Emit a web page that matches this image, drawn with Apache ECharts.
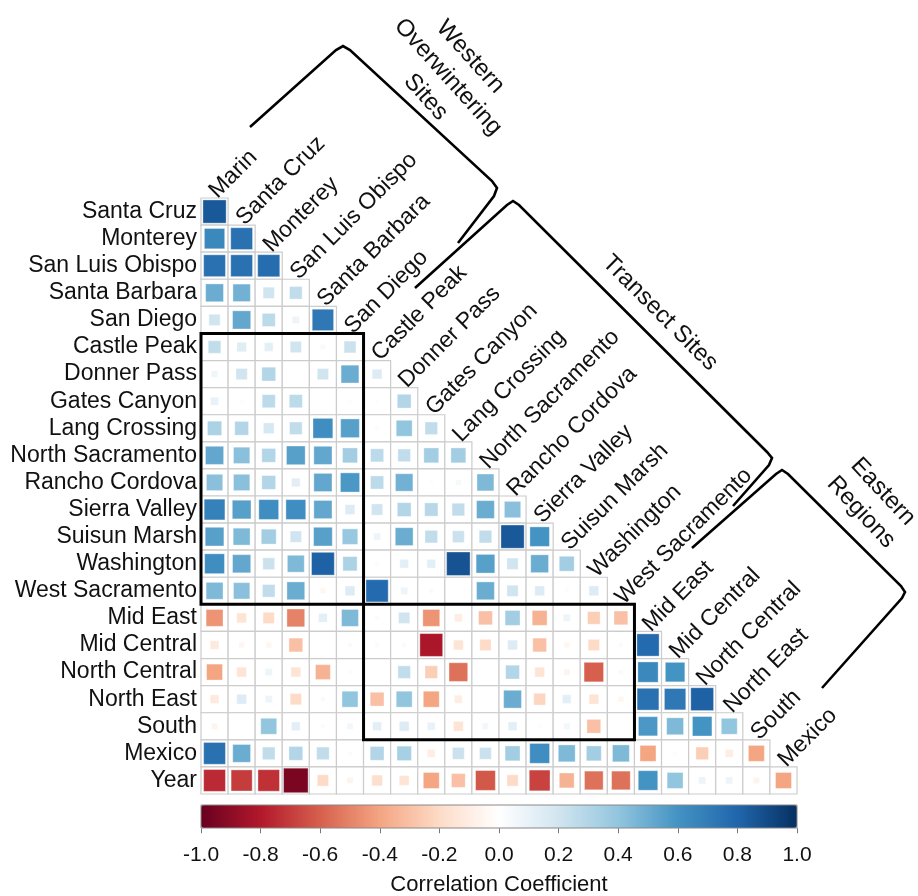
<!DOCTYPE html>
<html><head><meta charset="utf-8">
<script src="https://cdn.jsdelivr.net/npm/echarts@6/dist/echarts.min.js"></script>
<style>html,body{margin:0;padding:0;background:#fff}#c{width:918px;height:896px}</style>
</head><body><div id="c"></div>
<script>
// Column categories (x) and row categories (y)
const cols = ['Marin','Santa Cruz','Monterey','San Luis Obispo','Santa Barbara','San Diego',
  'Castle Peak','Donner Pass','Gates Canyon','Lang Crossing','North Sacramento','Rancho Cordova',
  'Sierra Valley','Suisun Marsh','Washington','West Sacramento','Mid East','Mid Central',
  'North Central','North East','South','Mexico'];
const rows = ['Santa Cruz','Monterey','San Luis Obispo','Santa Barbara','San Diego','Castle Peak',
  'Donner Pass','Gates Canyon','Lang Crossing','North Sacramento','Rancho Cordova','Sierra Valley',
  'Suisun Marsh','Washington','West Sacramento','Mid East','Mid Central','North Central',
  'North East','South','Mexico','Year'];

// Correlation values, one array per row (columns Marin ... in order)
const santaCruz = [0.85];
const monterey = [0.65, 0.75];
const sanLuisObispo = [0.75, 0.75, 0.77];
const santaBarbara = [0.5, 0.48, 0.2, 0.25];
const sanDiego = [0.2, 0.52, 0.27, 0.08, 0.72];
const castlePeak = [0.25, 0.14, 0.12, 0.2, 0.04, 0.22];
const donnerPass = [0.07, 0.2, 0.3, 0.0, 0.2, 0.5, 0.15];
const gatesCanyon = [0.1, 0.02, 0.27, 0.27, 0.01, 0.02, 0.02, 0.3];
const langCrossing = [0.32, 0.3, 0.18, 0.25, 0.62, 0.55, -0.03, 0.4, 0.25];
const northSacramento = [0.52, 0.42, 0.3, 0.55, 0.52, 0.35, 0.27, 0.25, 0.35, 0.35];
const ranchoCordova = [0.42, 0.42, 0.3, 0.12, 0.52, 0.58, 0.27, 0.48, 0.02, 0.05, 0.45];
const sierraValley = [0.68, 0.55, 0.62, 0.62, 0.52, 0.15, 0.2, 0.3, 0.28, 0.25, 0.5, 0.42];
const suisunMarsh = [0.55, 0.45, 0.35, 0.2, 0.55, 0.38, 0.08, 0.5, 0.25, 0.22, 0.25, 0.85, 0.6];
const washington = [0.62, 0.52, 0.22, 0.45, 0.82, 0.32, -0.03, 0.12, 0.12, 0.87, 0.55, 0.2, 0.5, 0.35];
const westSacramento = [0.45, 0.42, 0.25, 0.5, -0.05, 0.15, 0.78, 0.08, 0.03, 0.01, 0.5, 0.2, 0.15, -0.03, 0.15];
const midEast = [-0.45, -0.15, -0.2, -0.5, 0.12, 0.45, -0.03, 0.2, -0.45, -0.1, -0.3, 0.35, -0.35, 0.08, -0.25, -0.3];
const midCentral = [-0.12, -0.05, -0.05, -0.3, 0.01, 0.03, -0.03, -0.03, -0.82, -0.15, -0.2, 0.15, -0.3, -0.05, -0.2, -0.03, 0.78];
const northCentral = [-0.4, -0.15, 0.08, -0.15, -0.35, 0.02, 0.0, 0.25, -0.25, -0.55, 0.0, 0.3, -0.15, -0.06, -0.6, 0.03, 0.65, 0.6];
const northEast = [-0.12, 0.15, 0.08, -0.2, 0.03, 0.4, -0.3, 0.4, -0.4, -0.1, 0.0, 0.5, -0.22, 0.12, -0.15, -0.05, 0.75, 0.72, 0.82];
const south = [-0.06, 0.0, 0.4, 0.12, -0.03, 0.06, 0.12, 0.15, 0.1, -0.15, 0.06, 0.12, -0.02, 0.06, -0.3, 0.01, 0.58, 0.45, 0.6, 0.4];
const mexico = [0.75, 0.5, 0.25, 0.3, 0.25, -0.03, 0.3, 0.33, -0.1, 0.22, 0.22, 0.35, 0.62, 0.45, 0.35, 0.45, -0.4, 0.02, -0.25, -0.1, -0.4];
const year = [-0.75, -0.7, -0.73, -0.95, -0.2, -0.06, -0.18, -0.15, -0.4, -0.3, -0.62, -0.2, -0.68, -0.35, -0.55, -0.55, 0.6, 0.4, 0.08, 0.08, -0.06, -0.4];

// Colour bar ticks
const barTicks = [-1.0, -0.8, -0.6, -0.4, -0.2, 0.0, 0.2, 0.4, 0.6, 0.8, 1.0];

// Group blocks (inclusive column/row index ranges)
const blockWestTransect = [0, 5, 5, 14];
const blockTransectEast = [6, 15, 15, 19];

const rowValues = [santaCruz, monterey, sanLuisObispo, santaBarbara, sanDiego, castlePeak,
  donnerPass, gatesCanyon, langCrossing, northSacramento, ranchoCordova, sierraValley,
  suisunMarsh, washington, westSacramento, midEast, midCentral, northCentral, northEast,
  south, mexico, year];

const cellData = [];
rowValues.forEach((vals, i) => vals.forEach((v, j) => cellData.push([j, i, v])));

const FONT = '"Liberation Sans", Arial, sans-serif';
const chart = echarts.init(document.getElementById('c'));

chart.setOption({
  backgroundColor: '#fff',
  animation: false,
  grid: [
    {left: 201, top: 198, width: 596, height: 596},
    {left: 201, top: 828, width: 596, height: 1}
  ],
  xAxis: [
    {type: 'category', data: cols, gridIndex: 0, show: false},
    {type: 'value', gridIndex: 1, min: barTicks[0], max: barTicks[barTicks.length - 1], interval: 0.2,
     axisLine: {show: false}, splitLine: {show: false},
     axisTick: {show: true, length: 5, lineStyle: {color: '#777', width: 1}},
     axisLabel: {fontSize: 21, fontFamily: FONT, color: '#111', margin: 16,
       formatter: v => (Math.abs(v) < 1e-9 ? 0 : v).toFixed(1)},
     name: 'Correlation Coefficient', nameLocation: 'middle', nameGap: 46,
     nameTextStyle: {fontSize: 22, fontFamily: FONT, color: '#111'}}
  ],
  yAxis: [
    {type: 'category', data: rows, gridIndex: 0, inverse: true,
     axisLine: {show: false}, axisTick: {show: false}, splitLine: {show: false},
     axisLabel: {interval: 0, fontSize: 23, fontFamily: FONT, color: '#111', margin: 4}},
    {type: 'value', gridIndex: 1, show: false}
  ],
  visualMap: {
    type: 'continuous', seriesIndex: 0, dimension: 2, min: -1, max: 1,
    orient: 'horizontal', left: 201, top: 805, itemWidth: 23, itemHeight: 596,
    padding: 0, calculable: false, hoverLink: false,
    inRange: {color: ['#67001F','#B2182B','#D6604D','#F4A582','#FDDBC7','#FFFFFF',
                      '#D1E5F0','#92C5DE','#4393C3','#2166AC','#053061']}
  },
  series: [
    {
      type: 'custom', xAxisIndex: 0, yAxisIndex: 0, clip: false, data: cellData,
      renderItem: (params, api) => {
        const c = api.coord([api.value(0), api.value(1)]);
        const s = api.size([1, 1]);
        const w = s[0], h = s[1];
        const side = Math.sqrt(Math.abs(api.value(2))) * w * 0.93;
        return {type: 'group', children: [
          {type: 'rect', shape: {x: c[0] - w / 2, y: c[1] - h / 2, width: w, height: h},
           style: {fill: '#fff', stroke: '#cccccc', lineWidth: 1.2}},
          {type: 'rect', shape: {x: c[0] - side / 2, y: c[1] - side / 2, width: side, height: side},
           style: {fill: api.visual('color'), stroke: 'rgba(255,255,255,0.6)', lineWidth: 0.6}}
        ]};
      }
    },
    {
      type: 'custom', xAxisIndex: 0, yAxisIndex: 0, clip: false, z: 5,
      data: cols.map((c, j) => [j, j]),
      renderItem: (params, api) => {
        const j = api.value(0);
        const c = api.coord([j, j]);
        const s = api.size([1, 1]);
        return {type: 'text', x: c[0] - s[0] / 2 + 12, y: c[1] - s[1] + 10, rotation: Math.PI / 4,
          style: {text: cols[j], font: '23px ' + FONT, fill: '#111',
            textAlign: 'left', textVerticalAlign: 'middle', verticalAlign: 'middle'}};
      }
    },
    {
      type: 'custom', xAxisIndex: 0, yAxisIndex: 0, clip: false, z: 6,
      data: [blockWestTransect, blockTransectEast],
      renderItem: (params, api) => {
        const s = api.size([1, 1]);
        const a = api.coord([api.value(0), api.value(2)]);
        const b = api.coord([api.value(1), api.value(3)]);
        return {type: 'rect',
          shape: {x: a[0] - s[0] / 2, y: a[1] - s[1] / 2,
                  width: b[0] - a[0] + s[0], height: b[1] - a[1] + s[1]},
          style: {fill: 'none', stroke: '#000', lineWidth: 3}};
      }
    }
  ],
  graphic: [
    {type: 'rect', shape: {x: 201, y: 805, width: 596, height: 23},
     style: {fill: 'none', stroke: '#888', lineWidth: 1}, z: 10},
    {type: 'polyline', shape: {points: [[250,127],[336,50],[343,46],[350,50],[492,181],[497,188],[494,196],[458,243]]},
     style: {stroke: '#000', lineWidth: 2.6, fill: 'none'}},
    {type: 'polyline', shape: {points: [[415,288],[507,205],[513,201],[519,205],[767,452],[772,458],[769,465],[733,506]]},
     style: {stroke: '#000', lineWidth: 2.6, fill: 'none'}},
    {type: 'polyline', shape: {points: [[692,548],[776,474],[782,470],[788,474],[901,586],[905,592],[902,598],[822,688]]},
     style: {stroke: '#000', lineWidth: 2.6, fill: 'none'}},
    {type: 'text', x: 448, y: 77, rotation: -48 * Math.PI / 180,
     style: {text: 'Western\nOverwintering\nSites', font: '24px ' + FONT, fill: '#111',
       textAlign: 'center', textVerticalAlign: 'middle', verticalAlign: 'middle', lineHeight: 30}},
    {type: 'text', x: 660, y: 313, rotation: -45 * Math.PI / 180,
     style: {text: 'Transect Sites', font: '24px ' + FONT, fill: '#111',
       textAlign: 'center', textVerticalAlign: 'middle', verticalAlign: 'middle'}},
    {type: 'text', x: 872, y: 502, rotation: -47 * Math.PI / 180,
     style: {text: 'Eastern\nRegions', font: '24px ' + FONT, fill: '#111',
       textAlign: 'center', textVerticalAlign: 'middle', verticalAlign: 'middle', lineHeight: 30}}
  ]
});
</script>
</body></html>
